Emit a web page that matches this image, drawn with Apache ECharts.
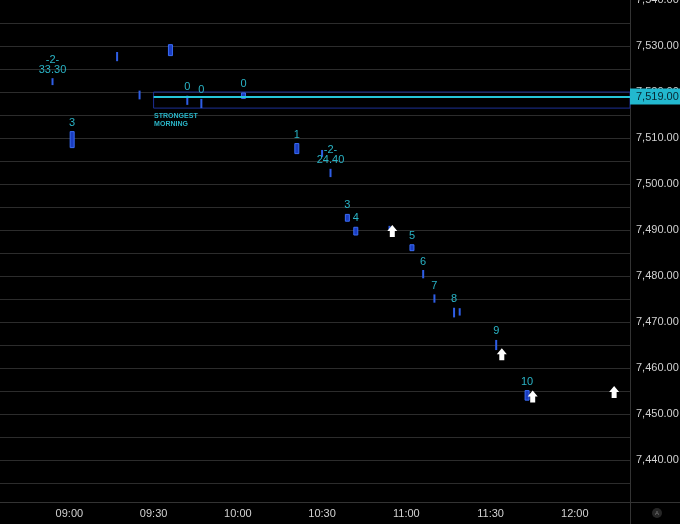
<!DOCTYPE html>
<html>
<head>
<meta charset="utf-8">
<script src="https://cdn.jsdelivr.net/npm/echarts@6/dist/echarts.min.js"></script>
<style>
  html, body { margin: 0; padding: 0; background: #000; }
  #chart { width: 680px; height: 524px; }
</style>
</head>
<body>
<div id="chart"></div>
<script>
// thin bars (time, low, high, note)
const thinTimes = ['08:54', '09:17', '09:25', '09:42', '09:47', '10:30', '10:33', '10:54', '11:06', '11:10', '11:17', '11:19', '11:32'];
const thinLows = [7521.5, 7526.7, 7518.4, 7517.2, 7516.5, 7505.9, 7501.5, 7490.0, 7479.5, 7474.2, 7471.0, 7471.4, 7463.9];
const thinHighs = [7523.0, 7528.7, 7520.3, 7519.2, 7518.5, 7507.4, 7503.3, 7490.9, 7481.3, 7476.0, 7473.1, 7473.0, 7466.1];
const thinNotes = ['-2-\n33.30', '', '', '0', '0', '', '-2-\n24.40', '', '6', '7', '8', '', '9'];

// wide bars
const wideTimes = ['09:01', '09:36', '10:02', '10:21', '10:39', '10:42', '11:02', '11:43'];
const wideLows = [7507.8, 7527.8, 7518.5, 7506.5, 7491.8, 7488.8, 7485.4, 7452.9];
const wideHighs = [7511.5, 7530.4, 7519.9, 7508.9, 7493.5, 7490.7, 7486.9, 7455.2];
const wideNotes = ['3', '', '0', '1', '3', '4', '5', '10'];

// arrow signals
const arrowTimes = ['10:55', '11:34', '11:45', '12:14'];
const arrowPrices = [7489.8, 7463.0, 7453.8, 7454.8];

// level / zone
const levelPrice = 7519;
const zoneStart = '09:30';
const zoneTop = 7520;
const zoneBottom = 7516.5;
const zoneName = 'STRONGEST\nMORNING';

const timeTicks = ['09:00', '09:30', '10:00', '10:30', '11:00', '11:30', '12:00'];

const xMin = 515.3;
const xMax = 739.65;

function toMin(s) {
    const p = s.split(':');
    return +p[0] * 60 + +p[1];
}
function fmtTime(m) {
    const h = Math.floor(m / 60), mm = Math.round(m % 60);
    return (h < 10 ? '0' : '') + h + ':' + (mm < 10 ? '0' : '') + mm;
}
function fmtPrice(v) {
    return v.toLocaleString('en-US', { minimumFractionDigits: 2, maximumFractionDigits: 2 });
}

const font = '"Liberation Sans", Arial, sans-serif';
const noteColor = '#2ab4c6';

const thinData = thinTimes.map((t, i) => [toMin(t), thinLows[i], thinHighs[i]]);
const wideData = wideTimes.map((t, i) => [toMin(t), wideLows[i], wideHighs[i]]);

const notes = [];
thinTimes.forEach((t, i) => { if (thinNotes[i]) notes.push({ name: thinNotes[i], value: [toMin(t), thinHighs[i]] }); });
wideTimes.forEach((t, i) => { if (wideNotes[i]) notes.push({ name: wideNotes[i], value: [toMin(t), wideHighs[i]] }); });

const arrowPath = 'path://M5,0 L10,6 L7.5,6 L7.5,12 L2.5,12 L2.5,6 L0,6 Z';

function barRenderer(w, fill, stroke) {
    return function (params, api) {
        const top = api.coord([api.value(0), api.value(2)]);
        const bot = api.coord([api.value(0), api.value(1)]);
        const h = Math.max(bot[1] - top[1], 2);
        if (stroke) {
            return {
                type: 'rect',
                shape: { x: top[0] - w / 2 + 0.5, y: top[1] + 0.5, width: w - 1, height: h - 1 },
                style: { fill: fill, stroke: stroke, lineWidth: 1 }
            };
        }
        return {
            type: 'rect',
            shape: { x: top[0] - w / 2, y: top[1], width: w, height: h },
            style: { fill: fill }
        };
    };
}

const chart = echarts.init(document.getElementById('chart'));
chart.setOption({
    backgroundColor: '#000',
    animation: false,
    grid: { left: 0, right: 50, top: 0, height: 506, outerBoundsMode: 'none', containLabel: false },
    xAxis: {
        type: 'value',
        min: xMin,
        max: xMax,
        offset: -4,
        splitLine: { show: false },
        axisLine: { show: false },
        axisTick: { show: false },
        axisLabel: {
            customValues: timeTicks.map(toMin),
            formatter: v => fmtTime(v),
            color: '#d2d2d2',
            fontSize: 11,
            fontFamily: font,
            margin: 6
        }
    },
    yAxis: {
        type: 'value',
        position: 'right',
        min: 7430,
        max: 7540,
        interval: 5,
        axisLine: { show: false },
        axisTick: { show: false },
        splitLine: { showMinLine: false, showMaxLine: false, lineStyle: { color: '#2c2c2c', width: 1 } },
        axisLabel: {
            formatter: v => (v % 10 === 0 && v > 7430 ? fmtPrice(v) : ''),
            color: '#d2d2d2',
            fontSize: 11,
            fontFamily: font,
            margin: 6
        }
    },
    graphic: [
        { type: 'line', shape: { x1: 630.5, y1: 0, x2: 630.5, y2: 524 }, style: { stroke: '#333', lineWidth: 1 }, z: 1 },
        { type: 'line', shape: { x1: 0, y1: 502.5, x2: 680, y2: 502.5 }, style: { stroke: '#333', lineWidth: 1 }, z: 1 },
        { type: 'rect', shape: { x: 0, y: 503, width: 630, height: 21 }, style: { fill: '#000' }, z: 0 },
        { type: 'circle', shape: { cx: 657, cy: 513, r: 5 }, style: { fill: '#262626' } },
        { type: 'text', x: 657, y: 513, style: { text: 'A', fill: '#777', fontSize: 6, fontFamily: font, align: 'center', verticalAlign: 'middle' } }
    ],
    series: [
        {
            name: 'thin',
            type: 'custom',
            clip: false,
            renderItem: barRenderer(2, '#2f5ee6'),
            data: thinData,
            z: 3,
            markArea: {
                silent: true,
                itemStyle: { color: 'rgba(0,0,0,0)', borderColor: '#1d2f96', borderWidth: 1 },
                label: {
                    show: true,
                    position: [0, '100%'],
                    offset: [1, 3],
                    color: noteColor,
                    fontSize: 7,
                    lineHeight: 8,
                    fontWeight: 'bold',
                    fontFamily: '"Liberation Sans Narrow", "Liberation Sans", sans-serif'
                },
                data: [[
                    { name: zoneName, coord: [toMin(zoneStart), zoneTop] },
                    { coord: [xMax, zoneBottom] }
                ]]
            },
            markLine: {
                silent: true,
                symbol: 'none',
                lineStyle: { color: '#26c6da', width: 2, type: 'solid' },
                label: {
                    show: true,
                    position: 'end',
                    distance: 0,
                    formatter: () => fmtPrice(levelPrice),
                    backgroundColor: '#22b8cf',
                    color: '#082630',
                    fontSize: 11,
                    lineHeight: 12,
                    fontFamily: font,
                    padding: [2, 6, 2, 6]
                },
                data: [[
                    { coord: [toMin(zoneStart), levelPrice] },
                    { coord: [xMax, levelPrice] }
                ]]
            }
        },
        {
            name: 'wide',
            type: 'custom',
            clip: false,
            renderItem: barRenderer(5, '#1a3cc0', '#3a6cf4'),
            data: wideData,
            z: 3
        },
        {
            name: 'notes',
            type: 'scatter',
            symbolSize: 1,
            itemStyle: { color: 'rgba(0,0,0,0)', opacity: 1 },
            label: {
                show: true,
                position: 'top',
                distance: 3,
                formatter: p => p.name,
                color: noteColor,
                fontSize: 11,
                lineHeight: 10,
                fontFamily: font
            },
            data: notes,
            z: 4
        },
        {
            name: 'arrows',
            type: 'scatter',
            symbol: arrowPath,
            symbolSize: [10, 12],
            itemStyle: { color: '#fff', opacity: 1 },
            data: arrowTimes.map((t, i) => [toMin(t), arrowPrices[i]]),
            z: 5
        }
    ]
});
</script>
</body>
</html>
